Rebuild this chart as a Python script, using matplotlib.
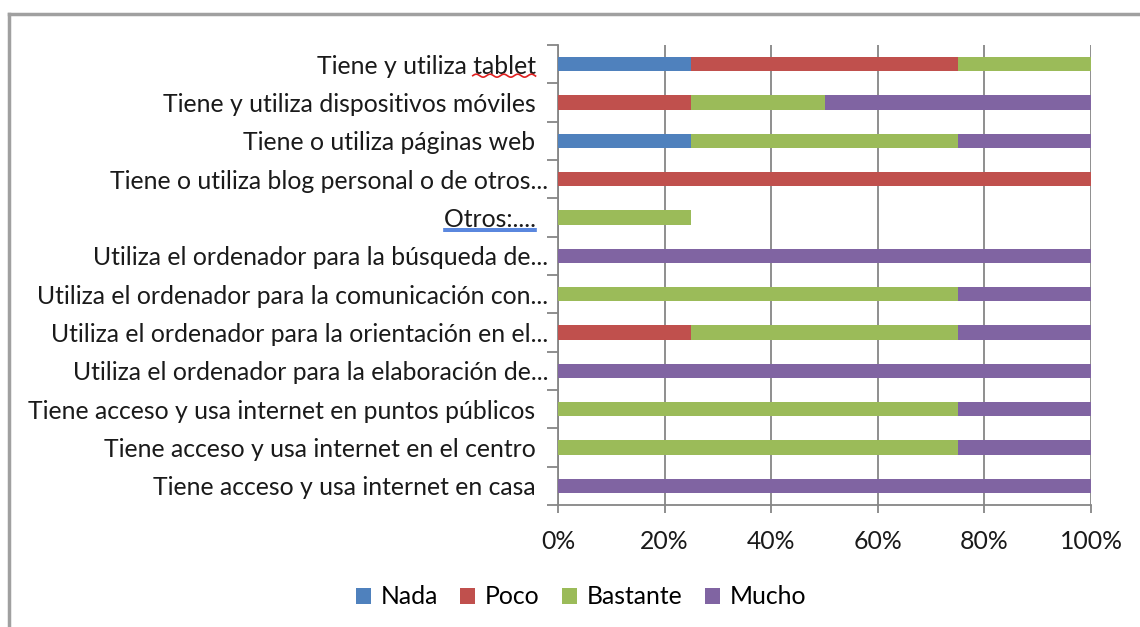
import numpy as np
import matplotlib
matplotlib.use("Agg")
import matplotlib.pyplot as plt
from matplotlib.lines import Line2D

plt.rcParams['font.family'] = ['Lato', 'DejaVu Sans']

# Data (top to bottom as shown in the chart)
categories = [
    "Tiene y utiliza tablet  ",
    "Tiene y utiliza dispositivos móviles  ",
    "Tiene o utiliza páginas web  ",
    "Tiene o utiliza blog personal o de otros...",
    "Otros:....  ",
    "Utiliza el ordenador para la búsqueda de...",
    "Utiliza el ordenador para la comunicación con...",
    "Utiliza el ordenador para la orientación en el...",
    "Utiliza el ordenador para la elaboración de...",
    "Tiene acceso y usa internet en puntos públicos  ",
    "Tiene acceso y usa internet en el centro  ",
    "Tiene acceso y usa internet en casa  ",
]
nada     = [25, 0, 25, 0, 0, 0, 0, 0, 0, 0, 0, 0]
poco     = [50, 25, 0, 100, 0, 0, 0, 25, 0, 0, 0, 0]
bastante = [25, 25, 50, 0, 25, 0, 75, 50, 0, 75, 75, 0]
mucho    = [0, 50, 25, 0, 0, 100, 25, 25, 100, 25, 25, 100]

series_names = ["Nada", "Poco", "Bastante", "Mucho"]
colors = ["#4F81BD", "#C0504D", "#9BBB59", "#8064A2"]
FS = 17.8

fig = plt.figure(figsize=(11.4, 6.27), dpi=100)
ax = fig.add_axes([558 / 1140, 1 - 505 / 627, 533 / 1140, 460 / 627])

y = np.arange(len(categories))[::-1]
left = np.zeros(len(categories))
for name, vals, c in zip(series_names, [nada, poco, bastante, mucho], colors):
    vals = np.array(vals, dtype=float)
    ax.barh(y, vals, left=left, height=0.37, color=c, label=name, zorder=3)
    left += vals

ax.set_xlim(0, 100)
ax.set_ylim(-0.5, len(categories) - 0.5)
ax.set_xticks(np.arange(0, 101, 20))
ax.set_xticklabels([f"{v}%" for v in range(0, 101, 20)])
ax.set_yticks(y)
ax.set_yticklabels(categories)
ax.set_yticks(np.arange(-0.5, len(categories), 1), minor=True)

ax.grid(axis="x", color="#868686", linewidth=1.3, zorder=0)
for s in ["top", "right"]:
    ax.spines[s].set_visible(False)
for s in ["left", "bottom"]:
    ax.spines[s].set_color("#868686")
    ax.spines[s].set_linewidth(1.3)

ax.tick_params(axis="y", which="major", length=0, pad=7, labelsize=FS, labelcolor="#1a1a1a")
ax.tick_params(axis="y", which="minor", length=8, width=1.3, color="#868686")
ax.tick_params(axis="x", length=6, width=1.3, color="#868686", pad=12,
               labelsize=FS, labelcolor="#1a1a1a")

leg = fig.legend(loc="center", bbox_to_anchor=(581 / 1140, 1 - 597 / 627), ncol=4,
                 frameon=False, fontsize=FS, handlelength=0.6, handleheight=0.6,
                 handletextpad=0.4, columnspacing=0.9)

# outer chart border (top and left edges visible)
fig.add_artist(Line2D([9 / 1140, 1.0], [1 - 14 / 627] * 2, color="#a0a0a0", lw=2.5))
fig.add_artist(Line2D([9 / 1140] * 2, [0.0, 1 - 14 / 627], color="#a0a0a0", lw=2.5))

# spell-check underlines from the original screenshot
fig.canvas.draw()
r = fig.canvas.get_renderer()
labels = ax.get_yticklabels()


def text_width(s):
    t = fig.text(0, 0, s, fontsize=FS)
    w = t.get_window_extent(r).width
    t.remove()
    return w


bb = labels[0].get_window_extent(r)
x1 = bb.x1 - text_width("  ")
x0 = x1 - text_width("tablet")
xs = np.linspace(x0, x1, 60)
ys = bb.y0 + 2 + 1.5 * np.sin((xs - x0) / 2.2)
fig.add_artist(Line2D(xs / 1140, ys / 627, color="#e02020", lw=1.2))

bb = labels[4].get_window_extent(r)
ws = text_width("  ")
for dy in (0, 2.5):
    fig.add_artist(Line2D([bb.x0 / 1140, (bb.x1 - ws) / 1140],
                          [(bb.y0 + 2 - dy) / 627] * 2, color="#3a6fd8", lw=1.2))

fig.savefig("out.png", dpi=100, facecolor="white")
